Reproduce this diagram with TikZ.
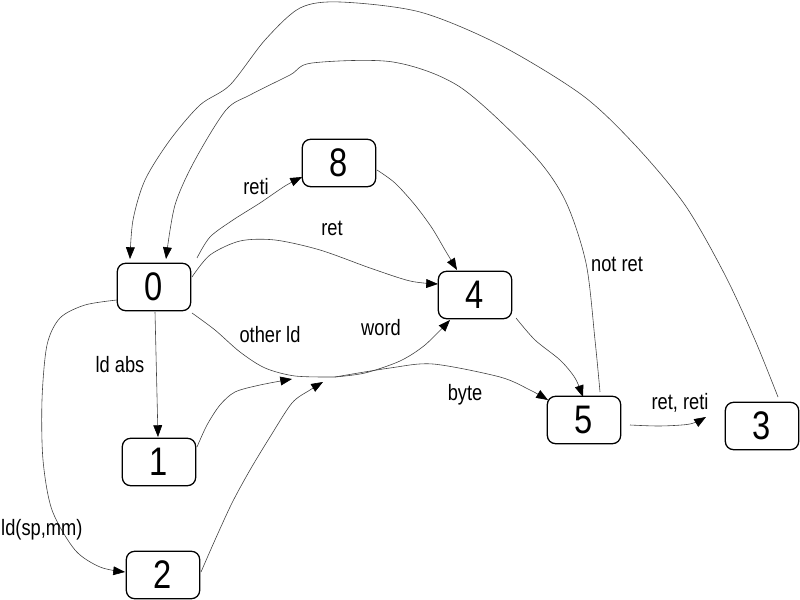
\documentclass[tikz,border=0pt]{standalone}
\usepackage{fontspec}
\setmainfont{Liberation Sans}
\newfontfamily\narrowsans[FakeStretch=0.82]{Liberation Sans}
\usetikzlibrary{arrows.meta,calc}
\tikzset{
 state/.style={draw=black, line width=1.1pt, rounded corners=7pt, minimum width=2.2cm, minimum height=1.42cm, inner sep=0pt, font=\narrowsans\fontsize{34}{34}\selectfont},
 edge/.style={draw=black!75, line width=0.5pt, -{Triangle[length=10pt,width=7.5pt,color=black]}},
 plain/.style={draw=black!75, line width=0.5pt},
 lbl/.style={font=\narrowsans\fontsize{19}{19}\selectfont, inner sep=0pt}
}
\begin{document}
\begin{tikzpicture}[x=0.03cm,y=-0.03cm]
\useasboundingbox (0,0) rectangle (800,600);
% states
\node[state] (n0) at (154,287) {0};
\node[state] (n8) at (339,163) {8};
\node[state] (n4) at (475,295) {4};
\node[state] (n5) at (584,420) {5};
\node[state] (n3) at (762,426) {3};
\node[state] (n1) at (159,462) {1};
\node[state] (n2) at (163,575) {2};
% junction points
\coordinate (J) at (335,377);
\coordinate (J1) at (292,379);
\coordinate (J2) at (323,382);
% anchors on boxes
\coordinate (s08) at ($(n0)+(43,-29)$);
\coordinate (e08) at ($(n8)+(-37,14)$);
\coordinate (s04) at ($(n0)+(38,-10)$);
\coordinate (e04) at ($(n4)+(-37,-11)$);
\coordinate (s84) at ($(n8)+(38,7)$);
\coordinate (e84) at ($(n4)+(-18,-25)$);
\coordinate (s0J) at ($(n0)+(38,26)$);
\coordinate (eJ4) at ($(n4)+(-25,25)$);
\coordinate (eJ5) at ($(n5)+(-36,-20)$);
\coordinate (s1J) at ($(n1)+(38,-15)$);
\coordinate (s2J) at ($(n2)+(38,-3)$);
\coordinate (s01) at ($(n0)+(1,25)$);
\coordinate (e01) at ($(n1)+(-1,-25)$);
\coordinate (s02) at ($(n0)+(-37,13)$);
\coordinate (e02) at ($(n2)+(-38,-3)$);
\coordinate (s45) at ($(n4)+(41,23)$);
\coordinate (e45) at ($(n5)+(-1,-23)$);
\coordinate (s53) at ($(n5)+(46,5)$);
\coordinate (e53) at ($(n3)+(-56,-9)$);
\coordinate (s50) at ($(n5)+(16,-28)$);
\coordinate (e50) at ($(n0)+(12,-28)$);
\coordinate (s30) at ($(n3)+(16,-29)$);
\coordinate (e30) at ($(n0)+(-24,-28)$);
% edges
\draw[edge] plot[smooth] coordinates {(s08) (210,237) (233,220) (260,203) (285,186) (e08)};
\draw[edge] plot[smooth] coordinates {(s04) (210,255) (240,241) (275,240) (320,250) (370,268) (410,281) (e04)};
\draw[edge] plot[smooth] coordinates {(s84) (395,183) (415,205) (432,228) (445,250) (e84)};
\draw[plain] plot[smooth] coordinates {(s0J) (215,330) (240,352) (265,368) (295,376) (J)};
\draw[edge] plot[smooth] coordinates {(J) (365,373) (400,361) (425,345) (eJ4)};
\draw[edge] plot[smooth] coordinates {(J) (390,368) (433,364) (500,377) (530,390) (eJ5)};
\draw[edge] plot[smooth] coordinates {(s1J) (207,425) (220,405) (235,392) (260,385) (J1)};
\draw[edge] plot[smooth] coordinates {(s2J) (215,540) (232,503) (250,470) (270,437) (292,403) (310,390) (J2)};
\draw[edge] (s01) -- (e01);
\draw[edge] plot[smooth] coordinates {(s02) (85,305) (60,318) (47,345) (42,400) (43,460) (52,510) (75,550) (100,567) (e02)};
\draw[edge] plot[smooth] coordinates {(s45) (535,340) (560,360) (575,378) (e45)};
\draw[edge] plot[smooth] coordinates {(s53) (660,426) (690,424) (e53)};
\draw[edge] plot[smooth] coordinates {(s50) (595,340) (586,263) (565,200) (532,153) (460,87) (393,62) (312,63) (290,75) (250,95) (226,110) (195,160) (175,205) (e50)};
\draw[edge] plot[smooth] coordinates {(s30) (755,340) (725,275) (685,205) (635,145) (582,95) (500,45) (420,12) (340,2) (300,8) (265,40) (230,85) (200,105) (170,140) (145,180) (133,220) (e30)};
% labels
\node[lbl] (l1) at (256,187) {reti};
\node[lbl] (l2) at (332,228) {ret};
\node[lbl] (l3) at (270,335) {other ld};
\node[lbl] (l4) at (381,328) {word};
\node[lbl] (l5) at (120,365) {ld abs};
\node[lbl] (l6) at (465,395) {byte};
\node[lbl] (l7) at (617,264) {not ret};
\node[lbl] (l8) at (680,403) {ret, reti};
\node[lbl,anchor=west] (l9) at (1,530) {ld(sp,mm)};
\end{tikzpicture}
\end{document}
